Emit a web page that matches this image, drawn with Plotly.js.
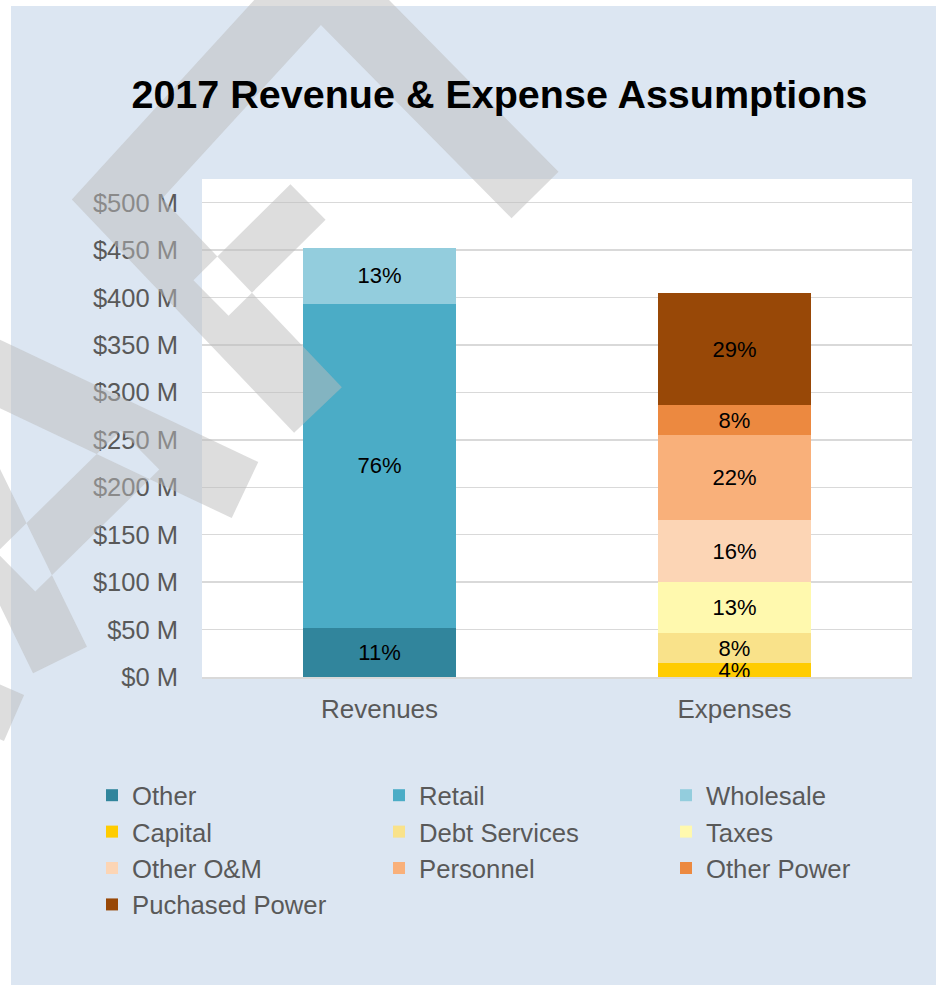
<!DOCTYPE html>
<html><head><meta charset="utf-8">
<script src="https://cdn.plot.ly/plotly-3.0.1.min.js"></script>
<style>html,body{margin:0;padding:0;background:#fff}#chart{width:936px;height:985px}</style>
</head><body><div id="chart"></div>
<script>
// ---- data ----
const categories = ['Revenues', 'Expenses'];
const seriesNames = ['Other', 'Retail', 'Wholesale', 'Capital', 'Debt Services', 'Taxes',
                     'Other O&M', 'Personnel', 'Other Power', 'Puchased Power'];
const seriesCategory = ['Revenues', 'Revenues', 'Revenues', 'Expenses', 'Expenses', 'Expenses',
                        'Expenses', 'Expenses', 'Expenses', 'Expenses'];
const seriesValues = [51.5, 342, 59, 14.4, 31.6, 54.1, 65.3, 89.6, 31.6, 117.7]; // $ M
const seriesColors = ['#31859c', '#4bacc6', '#93cddd', '#ffcc00', '#f9e28a', '#fff9ae',
                      '#fcd5b5', '#f9b07a', '#ec8940', '#984807'];
const yTickPrefix = '$';
const yTickSuffix = ' M';
const chartTitle = '2017 Revenue & Expense Assumptions';

// ---- build ----
const FONT = 'Liberation Sans, Arial, sans-serif';
const totals = {};
categories.forEach(c => totals[c] = 0);
seriesValues.forEach((v, i) => totals[seriesCategory[i]] += v);

const traces = seriesNames.map((name, i) => ({
  type: 'bar',
  name: name,
  x: [seriesCategory[i]],
  y: [seriesValues[i]],
  marker: { color: seriesColors[i], line: { width: 0 } },
  text: [Math.round(seriesValues[i] / totals[seriesCategory[i]] * 100) + '%'],
  textposition: 'inside',
  insidetextanchor: 'middle',
  textangle: 0,
  constraintext: 'none',
  insidetextfont: { family: FONT, size: 22, color: '#000000' },
  legendwidth: (i % 3 === 2) ? 160 : 242,
  hoverinfo: 'skip'
}));

// plot area in pixels
const L = 202, T = 179, W = 710, H = 498;
function toPaper(p) { return [(p[0] - L) / W, (T + H - p[1]) / H]; }
function bandPoly(pts, w) {
  const d = w / 2, left = [], right = [];
  const seg = (a, b) => { const dx = b[0] - a[0], dy = b[1] - a[1], l = Math.hypot(dx, dy); return [-dy / l, dx / l]; };
  for (let i = 0; i < pts.length; i++) {
    let n;
    if (i === 0) n = seg(pts[0], pts[1]);
    else if (i === pts.length - 1) n = seg(pts[i - 1], pts[i]);
    else {
      const n1 = seg(pts[i - 1], pts[i]), n2 = seg(pts[i], pts[i + 1]);
      let m = [n1[0] + n2[0], n1[1] + n2[1]];
      const ml = Math.hypot(m[0], m[1]); m = [m[0] / ml, m[1] / ml];
      const k = 1 / (m[0] * n1[0] + m[1] * n1[1]);
      n = [m[0] * k, m[1] * k];
    }
    left.push([pts[i][0] + n[0] * d, pts[i][1] + n[1] * d]);
    right.push([pts[i][0] - n[0] * d, pts[i][1] - n[1] * d]);
  }
  let poly = left.concat(right.reverse());
  let a = 0;
  for (let i = 0; i < poly.length; i++) { const p = poly[i], q = poly[(i + 1) % poly.length]; a += p[0] * q[1] - q[0] * p[1]; }
  if (a < 0) poly.reverse();
  return 'M' + poly.map(p => toPaper(p).map(v => v.toFixed(5)).join(',')).join('L') + 'Z';
}
// watermark strokes (decoration, pixel centerlines + widths)
const wmStrokes = [
  [[[535, 195], [320, -23], [117, 199], [318, 410]], 66],
  [[[308, 202], [211, 298]], 50],
  [[[-40, 355], [245, 490]], 62],
  [[[-50, 435], [60, 660]], 60],
  [[[16, 572], [140, 450]], 55],
  [[[-100, 668], [14, 718]], 50]
];
const wmPath = wmStrokes.map(s => bandPoly(s[0], s[1])).join(' ');

const px2x = px => (px - L) / W;
const py2y = py => (T + H - py) / H;

const shapes = [
  { type: 'rect', xref: 'paper', yref: 'paper', x0: px2x(-5), x1: px2x(941), y0: py2y(6), y1: py2y(-5),
    fillcolor: '#ffffff', line: { width: 0 }, layer: 'below' },
  { type: 'rect', xref: 'paper', yref: 'paper', x0: px2x(-5), x1: px2x(11), y0: py2y(990), y1: py2y(-5),
    fillcolor: '#ffffff', line: { width: 0 }, layer: 'below' },
  { type: 'path', xref: 'paper', yref: 'paper', path: wmPath, fillcolor: 'rgb(188,188,188)',
    opacity: 0.5, line: { width: 0 }, layer: 'above' }
];

const layout = {
  width: 936, height: 985,
  margin: { l: L, r: 936 - L - W, t: T, b: 985 - T - H, pad: 0 },
  paper_bgcolor: '#dce6f2',
  plot_bgcolor: '#ffffff',
  barmode: 'stack',
  bargap: 0.569,
  showlegend: true,
  title: {
    text: '<b>' + chartTitle.replace('&', '&amp;') + '</b>',
    font: { family: FONT, size: 39.5, color: '#000000' },
    xref: 'container', yref: 'container', x: 499.5 / 936, xanchor: 'center',
    y: 1 - 94 / 985, yanchor: 'middle'
  },
  xaxis: {
    type: 'category', categoryorder: 'array', categoryarray: categories,
    showline: true, linecolor: '#d9d9d9', linewidth: 1.5,
    ticks: '', showgrid: false, zeroline: false,
    tickfont: { family: FONT, size: 26, color: '#595959' },
    ticklabelstandoff: 8, fixedrange: true
  },
  yaxis: {
    range: [0, 525], dtick: 50, tick0: 0,
    tickprefix: yTickPrefix, ticksuffix: yTickSuffix,
    showgrid: true, gridcolor: '#d9d9d9', gridwidth: 1.3,
    zeroline: false, showline: false, ticks: '',
    tickfont: { family: FONT, size: 25.5, color: '#595959' },
    ticklabelstandoff: 23, fixedrange: true
  },
  legend: {
    orientation: 'h', traceorder: 'normal',
    xref: 'paper', yref: 'paper',
    x: px2x(92), xanchor: 'left',
    y: py2y(772), yanchor: 'top',
    entrywidth: 242, entrywidthmode: 'pixels',
    font: { family: FONT, size: 25.7, color: '#595959' },
    bgcolor: 'rgba(0,0,0,0)', borderwidth: 0
  },
  shapes: shapes,
  hovermode: false
};

Plotly.newPlot('chart', traces, layout, { staticPlot: true, displayModeBar: false });
</script>
</body></html>
